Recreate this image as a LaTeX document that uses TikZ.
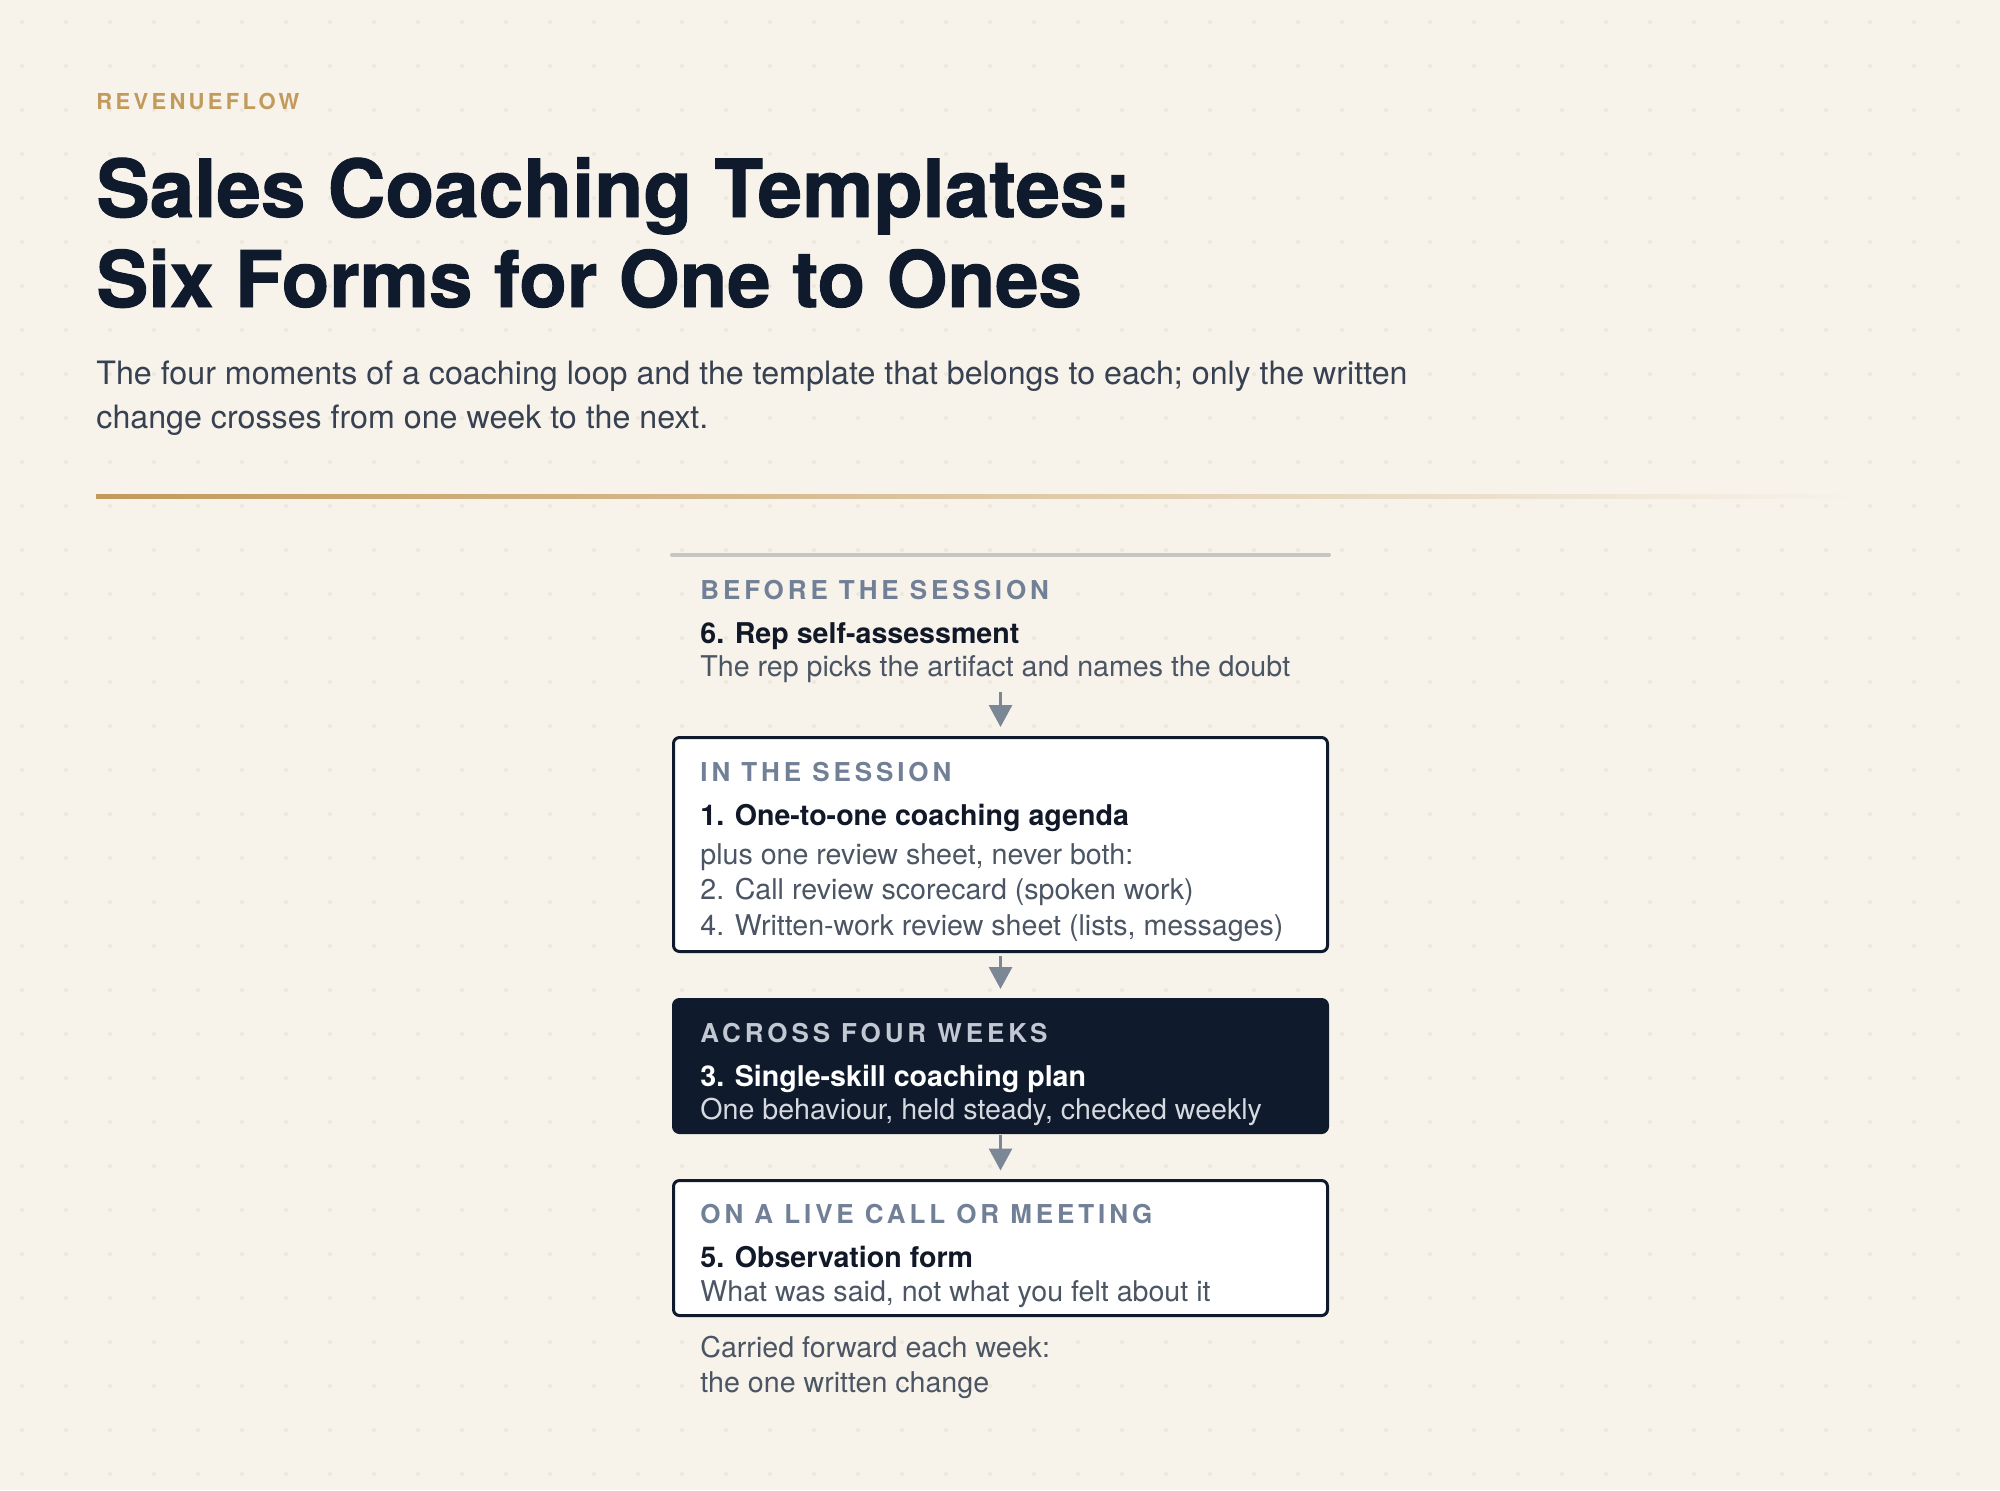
\documentclass[tikz,border=0pt]{standalone}
\usepackage{fontspec}
\setmainfont{TeX Gyre Heros}
\newfontfamily\titlefont{TeX Gyre Heros}[BoldFeatures={FakeBold=1.2}]
\newfontfamily\capsfont{TeX Gyre Heros}[LetterSpace=15]
\usetikzlibrary{arrows.meta}

\definecolor{paper}{HTML}{F7F3EB}
\definecolor{paperdot}{HTML}{ECE6DB}
\definecolor{navy}{HTML}{0F1B2D}
\definecolor{gold}{HTML}{C29A5B}
\definecolor{labelgray}{HTML}{718096}
\definecolor{ink}{HTML}{111827}
\definecolor{slate}{HTML}{4B5563}
\definecolor{subink}{HTML}{374151}
\definecolor{arrowgray}{HTML}{7B8794}
\definecolor{rulegray}{HTML}{C6C5C0}
\definecolor{darklabel}{HTML}{C1C8D2}
\definecolor{darkdesc}{HTML}{D5DAE1}

\begin{document}
\begin{tikzpicture}[x=0.5pt,y=-0.5pt,
	txt/.style={anchor=base west,inner sep=0pt},
	lbl/.style={txt,font=\capsfont\bfseries\fontsize{13}{15}\selectfont,text=labelgray},
	item/.style={txt,font=\bfseries\fontsize{14.3}{17}\selectfont,text=ink},
	desc/.style={txt,font=\fontsize{14.3}{17}\selectfont,text=slate},
	card/.style={draw=navy,line width=1.5pt,fill=white,rounded corners=3pt,
		minimum width=327pt,inner sep=0pt},
	flow/.style={-{Triangle[width=11.5pt,length=11pt]},draw=arrowgray,line width=1.5pt}]
		\useasboundingbox (0,0) rectangle (2000,1490);
		\fill[paper] (0,0) rectangle (2000,1490);
		\foreach \i in {0,...,45}
			\foreach \j in {0,...,33}
				\fill[paperdot] (22+44*\i,22+44*\j) circle (1pt);
		
		% heading
		\node[txt,font=\capsfont\bfseries\fontsize{11}{13}\selectfont,text=gold] (brand) at (96,109) {REVENUEFLOW};
		\node[txt,font=\titlefont\bfseries\fontsize{40}{45}\selectfont,text=navy] (title1) at (96,217) {Sales Coaching Templates:};
		\node[txt,font=\titlefont\bfseries\fontsize{39}{45}\selectfont,text=navy] (title2) at (96,307) {Six Forms for One to Ones};
		\node[txt,font=\fontsize{16.1}{22}\selectfont,text=subink] (sub1) at (96,384) {The four moments of a coaching loop and the template that belongs to each; only the written};
		\node[txt,font=\fontsize{16.1}{22}\selectfont,text=subink] (sub2) at (96,428) {change crosses from one week to the next.};
		\shade[left color=gold,right color=paper] (96,494) rectangle (1862,498);
		
		% before the session
		\draw[rulegray,line width=2pt,line cap=round] (672,555) -- (1329,555);
		\node[lbl] (beforelbl) at (700,599) {BEFORE THE SESSION};
		\node[item] (beforeitem) at (700,643) {6. Rep self-assessment};
		\node[desc] (beforedesc) at (700,676) {The rep picks the artifact and names the doubt};
		\coordinate (beforeend) at (1000.5,692);
		
		% in the session
		\node[card,minimum height=107pt] (insession) at (1000.5,844.5) {};
		\node[lbl] (inlbl) at (700,781) {IN THE SESSION};
		\node[item] (initem) at (700,825) {1. One-to-one coaching agenda};
		\node[desc] (indesc1) at (700,864) {plus one review sheet, never both:};
		\node[desc] (indesc2) at (700,899) {2. Call review scorecard (spoken work)};
		\node[desc] (indesc3) at (700,935) {4. Written-work review sheet (lists, messages)};
		
		% across four weeks
		\node[card,fill=navy,minimum height=66.5pt] (acrossweeks) at (1000.5,1066) {};
		\node[lbl,text=darklabel] (acrosslbl) at (700,1042) {ACROSS FOUR WEEKS};
		\node[item,text=white] (acrossitem) at (700,1086) {3. Single-skill coaching plan};
		\node[desc,text=darkdesc] (acrossdesc) at (700,1119) {One behaviour, held steady, checked weekly};
		
		% on a live call
		\node[card,minimum height=67.5pt] (livecall) at (1000.5,1248) {};
		\node[lbl] (livelbl) at (700,1223) {ON A LIVE CALL OR MEETING};
		\node[item] (liveitem) at (700,1267) {5. Observation form};
		\node[desc] (livedesc) at (700,1301) {What was said, not what you felt about it};
		
		\node[desc] (carry1) at (700,1357) {Carried forward each week:};
		\node[desc] (carry2) at (700,1392) {the one written change};
		
		\draw[flow,shorten >=4.5pt] (beforeend) -- (insession.north);
		\draw[flow,shorten <=1.5pt,shorten >=4.5pt] (insession.south) -- (acrossweeks.north);
		\draw[flow,shorten <=0.5pt,shorten >=4.25pt] (acrossweeks.south) -- (livecall.north);
	\end{tikzpicture}
\end{document}
